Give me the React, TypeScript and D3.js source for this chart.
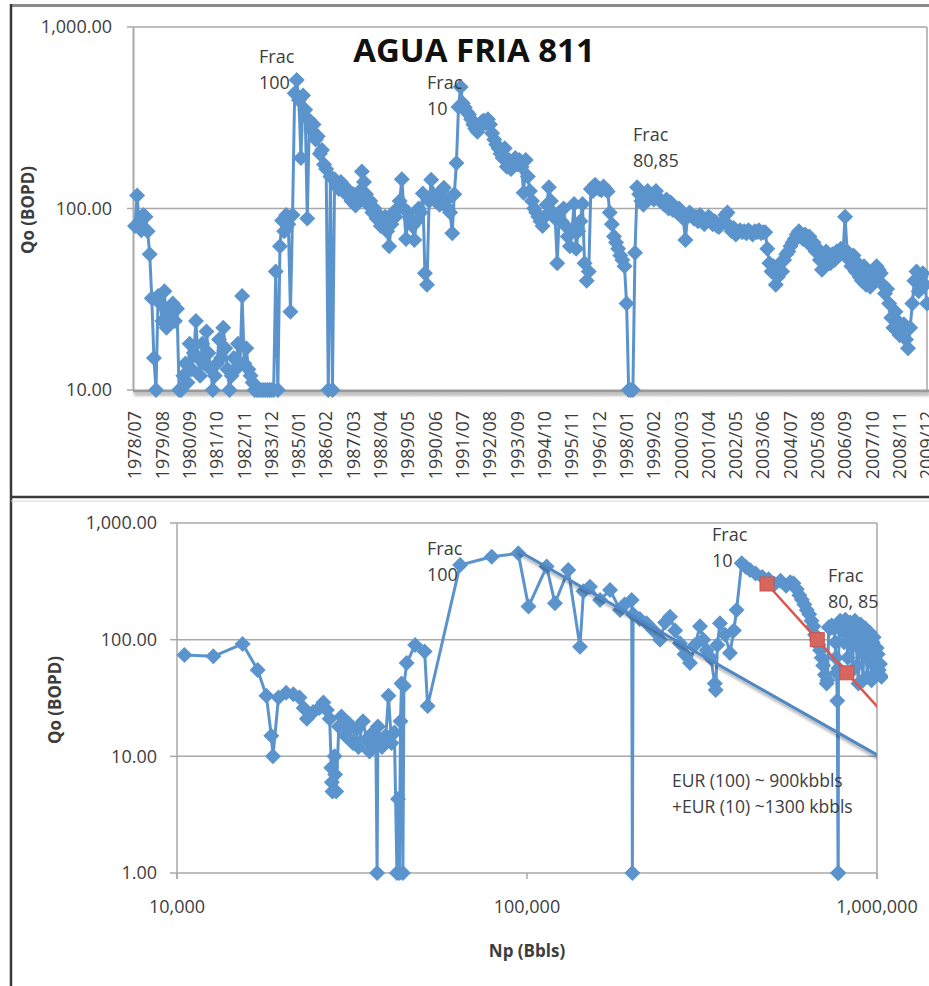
import { useEffect, useRef } from 'react';
import * as d3 from 'd3';

// ---- top chart: monthly oil rate, categories start 1978/07 ----
const monthLabels = [
  '1978/07', '1979/08', '1980/09', '1981/10', '1982/11', '1983/12', '1985/01', '1986/02',
  '1987/03', '1988/04', '1989/05', '1990/06', '1991/07', '1992/08', '1993/09', '1994/10',
  '1995/11', '1996/12', '1998/01', '1999/02', '2000/03', '2001/04', '2002/05', '2003/06',
  '2004/07', '2005/08', '2006/09', '2007/10', '2008/11', '2009/12',
];

// Qo (BOPD) per month from 1978/07 to 2009/12, 0 = no production (sits on the axis floor)
const qoMonthly = [
  80, 118, 82, 76, 92, 90, 75, 56, 32, 15, 0, 33,
  30, 24, 35, 22, 28, 26, 30, 24, 28, 0, 0, 12,
  14, 11, 18, 13, 16, 24, 15, 12, 18, 14, 21, 16,
  13, 0, 12, 14, 19, 15, 22, 17, 13, 0, 12, 15,
  13, 18, 14, 33, 14, 17, 13, 12, 11, 0, 0, 0,
  0, 0, 0, 0, 0, 0, 0, 45, 0, 62, 86, 75,
  92, 82, 27, 92, 431, 511, 396, 190, 420, 350, 88, 306,
  270, 290, 240, 250, 200, 210, 175, 165, 0, 150, 0, 145,
  135, 128, 140, 125, 122, 128, 118, 110, 120, 104, 112, 125,
  160, 140, 120, 105, 110, 95, 100, 88, 92, 80, 85, 90,
  75, 62, 82, 95, 90, 100, 110, 145, 100, 68, 95, 88,
  80, 67, 85, 100, 95, 121, 44, 38, 110, 144, 120, 110,
  115, 105, 125, 130, 110, 100, 95, 73, 120, 178, 363, 467,
  380, 360, 340, 330, 310, 290, 275, 265, 280, 300, 305, 295,
  310, 290, 260, 240, 225, 215, 200, 190, 215, 170, 185, 165,
  180, 190, 175, 185, 170, 122, 185, 150, 125, 110, 100, 95,
  90, 85, 80, 90, 105, 131, 110, 95, 88, 50, 95, 85,
  100, 80, 70, 62, 75, 106, 60, 75, 85, 106, 50, 40,
  45, 128, 125, 135, 130, 128, 126, 132, 128, 124, 95, 82,
  70, 65, 60, 55, 52, 48, 30, 0, 0, 0, 57, 131,
  120, 110, 105, 115, 125, 120, 118, 112, 125, 115, 110, 108,
  105, 112, 100, 108, 98, 102, 95, 100, 92, 88, 67, 90,
  95, 92, 88, 90, 85, 92, 88, 82, 85, 90, 88, 82,
  85, 80, 79, 82, 85, 92, 95, 80, 75, 78, 72, 74,
  76, 74, 75, 73, 76, 74, 72, 75, 74, 76, 73, 74,
  74, 60, 50, 45, 48, 38, 42, 50, 45, 52, 56, 58,
  62, 65, 68, 72, 75, 70, 68, 72, 66, 70, 62, 65,
  58, 60, 52, 46, 55, 58, 55, 50, 56, 52, 58, 55,
  60, 57, 90, 58, 52, 48, 55, 45, 50, 42, 40, 48,
  38, 42, 37, 45, 40, 48, 46, 44, 38, 34, 36, 30,
  25, 22, 27, 24, 20, 22, 23, 19, 17, 22, 30, 40,
  45, 35, 42, 44, 38, 30,
];
const topYTicks = [10, 100, 1000];

// ---- bottom chart: rate vs cumulative oil ----
const npBbls = [
  10500, 12700, 15400, 17000, 18000, 18600, 18800, 19500, 20500, 21500,
  22400, 23000, 23500, 24500, 25500, 26200, 26800, 27300, 27600, 27700,
  27800, 28200, 28300, 28500, 29000, 29500, 30300, 31000, 31800, 32500,
  33000, 34000, 34800, 35500, 36300, 37000, 37300, 37500, 38500, 39500,
  40200, 41000, 41800, 42500, 42800, 43200, 43500, 43800, 44200, 44500,
  45300, 47900, 51000, 52000, 64400, 79300, 94400, 101000, 113800, 120200,
  131200, 141700, 145000, 151300, 161700, 172700, 184400, 190000, 199100, 200000,
  201000, 210000, 219600, 230000, 239900, 248000, 256200, 265000, 273600, 282000,
  292200, 302000, 312100, 319000, 326000, 335000, 344000, 346000, 350000, 355800,
  368000, 380000, 390000, 397000, 410500, 422000, 433600, 450000, 470000, 490000,
  510000, 530000, 550000, 565000, 577000, 590000, 600000, 610000, 620000, 630000,
  640000, 650000, 658000, 665000, 672000, 680000, 687500, 695000, 702000, 710000,
  718000, 722000, 728000, 735000, 742000, 749000, 755000, 760000, 763000, 766000,
  770000, 774000, 775000, 776000, 780000, 785000, 792000, 798000, 805000, 812000,
  818000, 825000, 832000, 838000, 845000, 852000, 858000, 865000, 872000, 878000,
  885000, 892000, 898000, 905000, 912000, 918000, 925000, 932000, 938000, 945000,
  952000, 958000, 965000, 972000, 978000, 985000, 992000, 998000, 1005000, 1012000,
  1020000, 1030000,
];
const qoVsNp = [
  74, 72, 92, 55, 33, 15, 10, 32, 35, 34,
  32, 26, 21, 24, 26, 29, 25, 21, 8, 6,
  5, 10, 7, 5, 18, 22, 15, 19, 13, 17,
  12, 20, 14, 11, 16, 13, 0, 18, 12, 15,
  33, 13, 16, 0, 4.3, 0, 20, 42, 0, 40,
  63, 90, 79, 27, 437, 513, 550, 192, 423, 205,
  395, 87, 260, 284, 219, 267, 180, 200, 219, 0,
  165, 150, 138, 120, 100, 140, 157, 120, 93, 75,
  63, 90, 130, 100, 81, 70, 42, 37, 90, 138,
  110, 77, 120, 180, 452, 420, 395, 370, 345, 330,
  300, 320, 290, 310, 304, 270, 240, 220, 200, 180,
  165, 145, 130, 110, 100, 90, 81, 70, 60, 50,
  42, 45, 128, 125, 132, 128, 125, 95, 70, 52,
  30, 0, 0, 57, 131, 145, 120, 135, 95, 148,
  110, 70, 125, 140, 90, 55, 130, 145, 100, 60,
  42, 120, 135, 80, 45, 110, 125, 75, 48, 100,
  115, 65, 45, 95, 105, 60, 50, 85, 75, 55,
  62, 48,
];
// straight-line declines drawn on the log-log plot
const declineNp = [93500, 1000000];
const declineQo = [587, 10.3];
const refracNp = [485000, 675000, 820000, 1300000];
const refracQo = [300, 100, 52, 11.2];
const bottomYTicks = [1, 10, 100, 1000];
const bottomXTicks = [10000, 100000, 1000000];

export default function App() {
  const svgRef = useRef<SVGSVGElement>(null);

  useEffect(() => {
    if (!svgRef.current) return;
    const svg = d3.select(svgRef.current);
    svg.selectAll('*').remove();

    const font = '"Open Sans", "Liberation Sans", sans-serif';
    const ink = '#3d3d3d';
    const grid = '#a9a9a9';
    const blue = '#5b94cc';
    const red = '#d9574e';
    const diamond = 'M0,-8L8,0L0,8L-8,0Z';
    const fmtY = d3.format(',.2f');
    const fmtX = d3.format(',');

    const defs = svg.append('defs');
    defs
      .append('filter')
      .attr('id', 'shadow')
      .attr('filterUnits', 'userSpaceOnUse')
      .attr('x', 0)
      .attr('y', 0)
      .attr('width', 929)
      .attr('height', 986)
      .append('feDropShadow')
      .attr('dx', 1)
      .attr('dy', 3)
      .attr('stdDeviation', 1.6)
      .attr('flood-color', '#000')
      .attr('flood-opacity', 0.35);

    svg.append('rect').attr('width', 929).attr('height', 986).attr('fill', '#fff');

    // panel frames
    svg.append('line').attr('x1', 11).attr('x2', 929).attr('y1', 5.5).attr('y2', 5.5)
      .attr('stroke', '#8a8a8a').attr('stroke-width', 3);
    svg.append('line').attr('x1', 11).attr('x2', 11).attr('y1', 4).attr('y2', 986)
      .attr('stroke', '#3a3a3a').attr('stroke-width', 2.5);
    svg.append('line').attr('x1', 11).attr('x2', 929).attr('y1', 497).attr('y2', 497)
      .attr('stroke', '#3a3a3a').attr('stroke-width', 2.5);
    svg.append('line').attr('x1', 11).attr('x2', 929).attr('y1', 501).attr('y2', 501)
      .attr('stroke', '#d6d6d6').attr('stroke-width', 1);

    const note = (x: number, y: number, lines: string[], size = 18) => {
      const t = svg.append('text').attr('font-family', font).attr('font-size', size).attr('fill', ink);
      lines.forEach((l, i) => t.append('tspan').attr('x', x).attr('y', y + i * 26).text(l));
    };

    // ================= TOP: Qo vs month =================
    const tx = d3.scaleLinear().domain([0, 377]).range([135, 927]);
    const ty = d3.scaleLog().domain([10, 1000]).range([390, 27]);
    const top = svg.append('g');

    top.append('clipPath').attr('id', 'clipTop').append('rect')
      .attr('x', 133).attr('y', 27).attr('width', 794).attr('height', 363);

    top.selectAll('.tgrid').data([100, 1000]).join('line')
      .attr('x1', 133).attr('x2', 927).attr('y1', (d) => ty(d)).attr('y2', (d) => ty(d))
      .attr('stroke', grid).attr('stroke-width', 1.5);
    top.append('line').attr('x1', 927).attr('x2', 927).attr('y1', 27).attr('y2', 390)
      .attr('stroke', grid).attr('stroke-width', 1.5);
    top.append('line').attr('x1', 133.5).attr('x2', 133.5).attr('y1', 27).attr('y2', 391)
      .attr('stroke', grid).attr('stroke-width', 2);
    top.selectAll('.tytick').data(topYTicks).join('line')
      .attr('x1', 127).attr('x2', 133).attr('y1', (d) => ty(d)).attr('y2', (d) => ty(d))
      .attr('stroke', grid).attr('stroke-width', 1.5);
    top.append('line').attr('x1', 133).attr('x2', 929).attr('y1', 391).attr('y2', 391)
      .attr('stroke', '#9a9a9a').attr('stroke-width', 3).attr('filter', 'url(#shadow)');

    top.selectAll('.tylab').data(topYTicks).join('text')
      .attr('x', 112).attr('y', (d) => ty(d)).attr('dy', '0.35em')
      .attr('text-anchor', 'end').attr('font-family', font).attr('font-size', 18).attr('fill', ink)
      .text((d) => fmtY(d));

    top.selectAll('.txlab').data(monthLabels).join('text')
      .attr('transform', (_d, i) => `translate(${tx(i * 13)},411) rotate(-90)`)
      .attr('dy', '0.35em').attr('text-anchor', 'end')
      .attr('font-family', font).attr('font-size', 18).attr('fill', ink)
      .text((d) => d);

    const topPts = qoMonthly.map((q, i) => [tx(i), ty(Math.max(q, 10))] as [number, number]);
    top.append('path').attr('d', d3.line()(topPts)).attr('fill', 'none')
      .attr('stroke', blue).attr('stroke-width', 3).attr('stroke-linejoin', 'round')
      .attr('clip-path', 'url(#clipTop)');
    top.selectAll('.tmark').data(topPts).join('path')
      .attr('d', diamond).attr('transform', (d) => `translate(${d[0]},${d[1]})`).attr('fill', blue);

    svg.append('text').attr('x', 474).attr('y', 62).attr('text-anchor', 'middle')
      .attr('font-family', font).attr('font-weight', 'bold').attr('font-size', 33).attr('fill', '#111')
      .text('AGUA FRIA 811');
    note(259, 63, ['Frac', '100']);
    note(427, 89, ['Frac', '10']);
    note(633, 141, ['Frac', '80,85']);
    svg.append('text').attr('transform', 'translate(34,210) rotate(-90)').attr('text-anchor', 'middle')
      .attr('font-family', font).attr('font-weight', 'bold').attr('font-size', 17).attr('fill', ink)
      .text('Qo (BOPD)');

    // ================= BOTTOM: Qo vs Np =================
    const bx = d3.scaleLog().domain([1e4, 1e6]).range([177, 877]);
    const by = d3.scaleLog().domain([1, 1000]).range([873, 523]);
    const bot = svg.append('g');
    bot.append('clipPath').attr('id', 'clipBot').append('rect')
      .attr('x', 177).attr('y', 523).attr('width', 700).attr('height', 350);
    bot.append('clipPath').attr('id', 'clipBotM').append('rect')
      .attr('x', 168).attr('y', 514).attr('width', 720).attr('height', 368);

    bot.selectAll('.bgrid').data(bottomYTicks).join('line')
      .attr('x1', 177).attr('x2', 877).attr('y1', (d) => by(d)).attr('y2', (d) => by(d))
      .attr('stroke', grid).attr('stroke-width', 1.5);
    bot.append('line').attr('x1', 877).attr('x2', 877).attr('y1', 523).attr('y2', 879)
      .attr('stroke', grid).attr('stroke-width', 1.5);
    bot.append('line').attr('x1', 177).attr('x2', 177).attr('y1', 523).attr('y2', 879)
      .attr('stroke', grid).attr('stroke-width', 1.5);
    bot.selectAll('.bytick').data(bottomYTicks).join('line')
      .attr('x1', 170).attr('x2', 177).attr('y1', (d) => by(d)).attr('y2', (d) => by(d))
      .attr('stroke', grid).attr('stroke-width', 1.5);
    bot.selectAll('.bxtick').data(bottomXTicks).join('line')
      .attr('x1', (d) => bx(d)).attr('x2', (d) => bx(d)).attr('y1', 873).attr('y2', 879)
      .attr('stroke', grid).attr('stroke-width', 1.5);

    bot.selectAll('.bylab').data(bottomYTicks).join('text')
      .attr('x', 157).attr('y', (d) => by(d)).attr('dy', '0.35em')
      .attr('text-anchor', 'end').attr('font-family', font).attr('font-size', 18).attr('fill', ink)
      .text((d) => fmtY(d));
    bot.selectAll('.bxlab').data(bottomXTicks).join('text')
      .attr('x', (d) => bx(d)).attr('y', 913)
      .attr('text-anchor', 'middle').attr('font-family', font).attr('font-size', 18).attr('fill', ink)
      .text((d) => fmtX(d));

    const botPts = npBbls.map((n, i) => [bx(n), by(Math.max(qoVsNp[i], 1))] as [number, number]);
    bot.append('path').attr('d', d3.line()(botPts)).attr('fill', 'none')
      .attr('stroke', blue).attr('stroke-width', 3).attr('stroke-linejoin', 'round')
      .attr('clip-path', 'url(#clipBot)');
    bot.append('g').attr('clip-path', 'url(#clipBotM)').selectAll('path').data(botPts).join('path')
      .attr('d', diamond).attr('transform', (d) => `translate(${d[0]},${d[1]})`).attr('fill', blue);

    const declinePts = declineNp.map((n, i) => [bx(n), by(declineQo[i])] as [number, number]);
    bot.append('g').attr('clip-path', 'url(#clipBot)').append('path')
      .attr('d', d3.line()(declinePts)).attr('fill', 'none')
      .attr('stroke', '#4f88c4').attr('stroke-width', 3).attr('filter', 'url(#shadow)');

    const refracPts = refracNp.map((n, i) => [bx(n), by(refracQo[i])] as [number, number]);
    const redG = bot.append('g').attr('clip-path', 'url(#clipBot)');
    redG.append('path').attr('d', d3.line()(refracPts)).attr('fill', 'none')
      .attr('stroke', red).attr('stroke-width', 2.5);
    redG.selectAll('rect').data(refracPts).join('rect')
      .attr('x', (d) => d[0] - 7).attr('y', (d) => d[1] - 7).attr('width', 14).attr('height', 14)
      .attr('fill', '#d6665e').attr('stroke', '#c9544c').attr('stroke-width', 1);

    note(427, 555, ['Frac', '100']);
    note(712, 541, ['Frac', '10']);
    note(828, 582, ['Frac', '80, 85']);
    note(672, 787, ['EUR (100) ~ 900kbbls', '+EUR (10) ~1300 kbbls'], 17.5);

    svg.append('text').attr('transform', 'translate(61,700) rotate(-90)').attr('text-anchor', 'middle')
      .attr('font-family', font).attr('font-weight', 'bold').attr('font-size', 17).attr('fill', ink)
      .text('Qo (BOPD)');
    svg.append('text').attr('x', 527).attr('y', 957).attr('text-anchor', 'middle')
      .attr('font-family', font).attr('font-weight', 'bold').attr('font-size', 17).attr('fill', ink)
      .text('Np (Bbls)');
  }, []);

  return (
    <svg
      ref={svgRef}
      width={929}
      height={986}
      style={{ position: 'absolute', left: 0, top: 0, display: 'block' }}
    />
  );
}
